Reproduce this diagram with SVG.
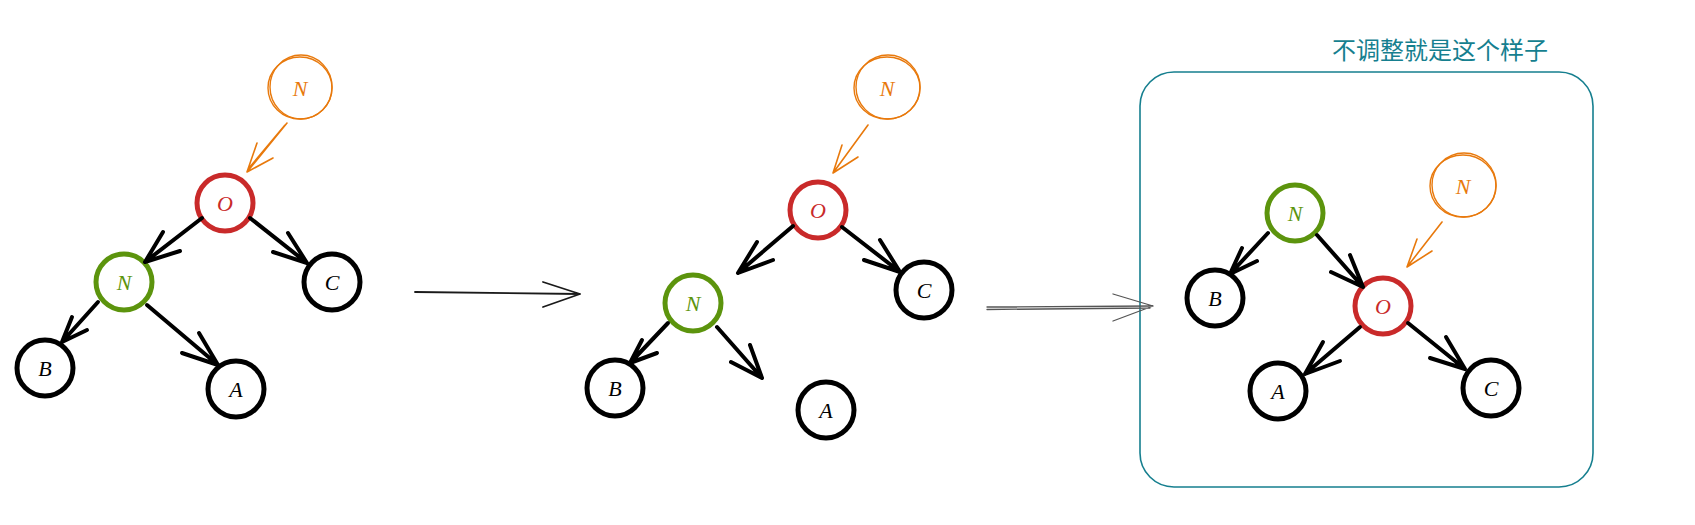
<svg xmlns="http://www.w3.org/2000/svg" width="1695" height="525" viewBox="0 0 1695 525">
<style>
.bg{fill:#ffffff}
.node{fill:none;stroke-width:5}
.black{stroke:#000000}
.red{stroke:#c92a2a}
.green{stroke:#5c940d}
.orange{fill:none;stroke:#e8790c;stroke-width:1.4}
.lbl{font-family:"Liberation Serif",serif;font-style:italic;font-size:22px;text-anchor:middle;dominant-baseline:central}
.lb{fill:#000000}
.lr{fill:#c92a2a}
.lg{fill:#5c940d}
.lo{fill:#e8790c}
.edge{fill:none;stroke:#000000;stroke-width:4;stroke-linecap:round;stroke-linejoin:round}
.oedge{fill:none;stroke:#e8790c;stroke-width:1.6;stroke-linecap:round;stroke-linejoin:round}
.step{fill:none;stroke:#1a1a1a;stroke-width:1.8;stroke-linecap:round;stroke-linejoin:round}
.step2{fill:none;stroke:#555555;stroke-width:1.3;stroke-linecap:round;stroke-linejoin:round}
.frame{fill:none;stroke:#167f8f;stroke-width:1.6}
.cap{font-family:"Noto Sans CJK SC","Noto Sans",sans-serif;font-size:24px;fill:#167f8f}
</style>
<rect class="bg" x="0" y="0" width="1695" height="525"/>

<!-- Tree 1 -->
<g id="t1-new"><ellipse class="orange" cx="300" cy="88" rx="32" ry="31"/><ellipse class="orange" cx="301" cy="87" rx="31" ry="32"/><text class="lbl lo" x="300" y="88">N</text></g>
<g id="t1-O"><circle class="node red" cx="225" cy="203" r="28"/><text class="lbl lr" x="225" y="203">O</text></g>
<g id="t1-N"><circle class="node green" cx="124" cy="282" r="28"/><text class="lbl lg" x="124" y="282">N</text></g>
<g id="t1-C"><circle class="node black" cx="332" cy="282" r="28"/><text class="lbl lb" x="332" y="282">C</text></g>
<g id="t1-B"><circle class="node black" cx="45" cy="368" r="28"/><text class="lbl lb" x="45" y="368">B</text></g>
<g id="t1-A"><circle class="node black" cx="236" cy="389" r="28"/><text class="lbl lb" x="236" y="389">A</text></g>

<!-- Tree 2 -->
<g id="t2-new"><ellipse class="orange" cx="887" cy="88" rx="33" ry="31"/><ellipse class="orange" cx="888" cy="87" rx="32" ry="32"/><text class="lbl lo" x="887" y="88">N</text></g>
<g id="t2-O"><circle class="node red" cx="818" cy="210" r="28"/><text class="lbl lr" x="818" y="210">O</text></g>
<g id="t2-N"><circle class="node green" cx="693" cy="303" r="28"/><text class="lbl lg" x="693" y="303">N</text></g>
<g id="t2-C"><circle class="node black" cx="924" cy="290" r="28"/><text class="lbl lb" x="924" y="290">C</text></g>
<g id="t2-B"><circle class="node black" cx="615" cy="388" r="28"/><text class="lbl lb" x="615" y="388">B</text></g>
<g id="t2-A"><circle class="node black" cx="826" cy="410" r="28"/><text class="lbl lb" x="826" y="410">A</text></g>

<!-- Tree 3 -->
<g id="frame"><rect class="frame" x="1140" y="72" width="453" height="415" rx="34"/><text class="cap" x="1332" y="59">不调整就是这个样子</text></g>
<g id="t3-new"><ellipse class="orange" cx="1463" cy="186" rx="33" ry="31"/><ellipse class="orange" cx="1464" cy="185" rx="32" ry="32"/><text class="lbl lo" x="1463" y="186">N</text></g>
<g id="t3-N"><circle class="node green" cx="1295" cy="213" r="28"/><text class="lbl lg" x="1295" y="213">N</text></g>
<g id="t3-B"><circle class="node black" cx="1215" cy="298" r="28"/><text class="lbl lb" x="1215" y="298">B</text></g>
<g id="t3-O"><circle class="node red" cx="1383" cy="306" r="28"/><text class="lbl lr" x="1383" y="306">O</text></g>
<g id="t3-A"><circle class="node black" cx="1278" cy="391" r="28"/><text class="lbl lb" x="1278" y="391">A</text></g>
<g id="t3-C"><circle class="node black" cx="1491" cy="388" r="28"/><text class="lbl lb" x="1491" y="388">C</text></g>

<g id="connectors">
<!-- tree 1 -->
<path class="oedge" d="M287 123 L247 172 M257 143 L247 172 L273 158 M285 125 L249 168"/>
<path class="edge" d="M202 218 L145 262 M163 232 L145 262 L180 251"/>
<path class="edge" d="M250 218 L307 263 M288 233 L307 263 L273 252"/>
<path class="edge" d="M98 302 L62 342 M72 317 L62 342 L87 330"/>
<path class="edge" d="M147 305 L218 365 M199 333 L218 365 L182 353"/>
<!-- step arrow 1 -->
<path class="step" d="M415 292 L580 294 M543 282 L580 294 L543 307"/>
<!-- tree 2 -->
<path class="oedge" d="M868 125 L833 173 M842 145 L833 173 L858 157"/>
<path class="edge" d="M793 226 L738 273 M757 242 L738 273 L773 260"/>
<path class="edge" d="M842 227 L900 272 M880 240 L900 272 L864 260"/>
<path class="edge" d="M668 323 L630 363 M642 340 L630 363 L657 353"/>
<path class="edge" d="M717 327 L762 378 M750 345 L762 378 L731 362"/>
<!-- step arrow 2 -->
<path class="step2" d="M987 307 L1153 306 M987 309.5 L1150 308 M1113 294 L1153 306 L1113 321"/>
<!-- tree 3 -->
<path class="oedge" d="M1442 222 L1407 267 M1417 239 L1407 267 L1432 251"/>
<path class="edge" d="M1268 233 L1230 274 M1242 248 L1230 274 L1257 261"/>
<path class="edge" d="M1317 235 L1363 287 M1350 255 L1363 287 L1331 272"/>
<path class="edge" d="M1360 327 L1305 374 M1323 342 L1305 374 L1340 361"/>
<path class="edge" d="M1408 323 L1465 369 M1446 337 L1465 369 L1430 358"/>
</g>
</svg>
